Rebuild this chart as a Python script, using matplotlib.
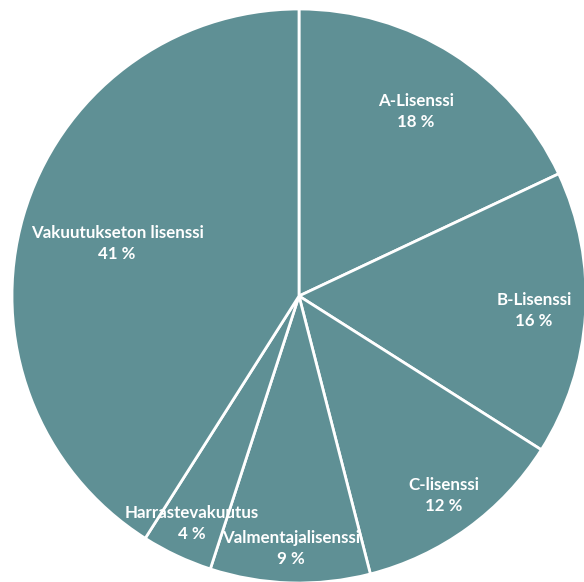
import numpy as np
import matplotlib
matplotlib.use('Agg')
import matplotlib.pyplot as plt

labels = ['A-Lisenssi', 'B-Lisenssi', 'C-lisenssi', 'Valmentajalisenssi',
          'Harrastevakuutus', 'Vakuutukseton lisenssi']
values = [18, 16, 12, 9, 4, 41]
# how far out each label sits (fraction of radius)
label_r = [0.76, 0.82, 0.86, 0.88, 0.875, 0.66]

color = '#5F9095'


def main():
    fig = plt.figure(figsize=(5.84, 5.82), dpi=100)
    ax = fig.add_axes([0, 0, 1, 1])
    wedges, _ = ax.pie(values, startangle=90, counterclock=False,
                       colors=[color] * len(values),
                       wedgeprops=dict(edgecolor='white', linewidth=2))

    total = sum(values)
    cum = 0
    for name, v, r in zip(labels, values, label_r):
        mid = (cum + v / 2) / total * 2 * np.pi
        cum += v
        x = r * np.sin(mid)
        y = r * np.cos(mid)
        ax.text(x, y, '%s\n%d %%' % (name, v), ha='center', va='center',
                color='white', fontsize=12.2, fontweight='bold',
                family=['Lato', 'DejaVu Sans'], linespacing=1.4)

    ax.set_aspect('auto')
    ax.set_xlim(-299 / 287, 285 / 287)
    ax.set_ylim(-286 / 287, 296 / 287)
    ax.axis('off')
    plt.savefig('out.png', dpi=100)


if __name__ == '__main__':
    main()
